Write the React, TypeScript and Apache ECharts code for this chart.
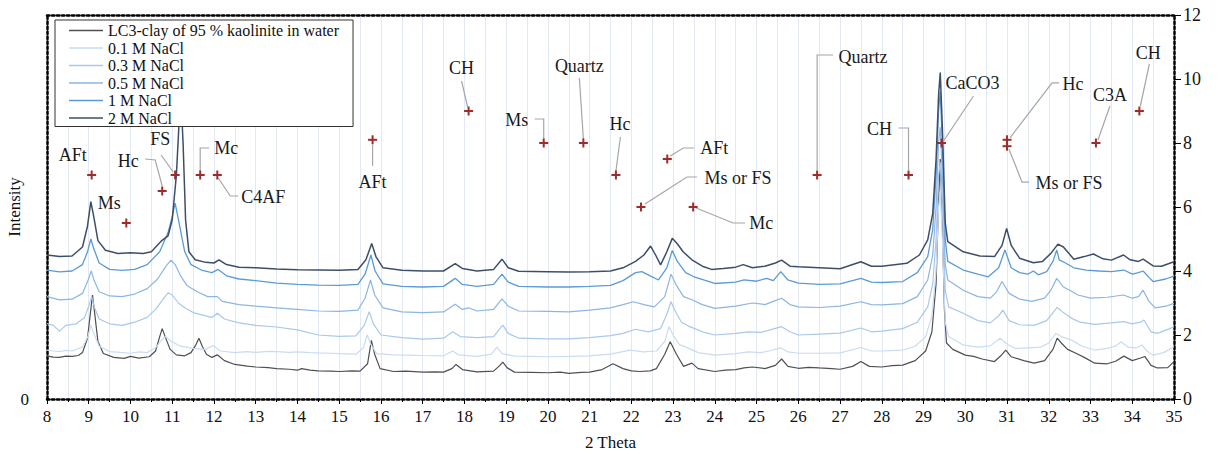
import React, { useEffect, useRef } from 'react';
import * as echarts from 'echarts';

const seriesNames = [
  'LC3-clay of 95 % kaolinite in water',
  '0.1 M NaCl',
  '0.3 M NaCl',
  '0.5 M NaCl',
  '1 M NaCl',
  '2 M NaCl',
];

const xTicks = [8, 35];
const yTicks = [0, 12];

const water = [
  [8,1.35],[8.15,1.31],[8.3,1.3],[8.45,1.34],[8.6,1.33],[8.75,1.36],[8.85,1.45],[8.97,1.9],[9.05,2.8],[9.09,3.25],[9.14,2.7],[9.22,1.8],[9.35,1.42],[9.6,1.3],[9.85,1.27],[10.0,1.33],[10.2,1.28],[10.45,1.32],[10.6,1.5],[10.7,1.95],[10.76,2.2],[10.83,1.95],[10.95,1.55],[11.1,1.38],[11.3,1.35],[11.45,1.45],[11.57,1.7],[11.64,1.9],[11.72,1.65],[11.82,1.4],[11.95,1.3],[12.08,1.38],[12.25,1.2],[12.5,1.08],[12.8,1.03],[13,1.0],[13.3,0.98],[13.5,0.95],[13.8,0.93],[14,0.9],[14.1,0.95],[14.3,0.9],[14.5,0.88],[14.8,0.87],[15,0.86],[15.3,0.88],[15.5,0.87],[15.68,1.1],[15.77,1.83],[15.85,1.4],[15.98,0.95],[16.3,0.86],[16.6,0.87],[17,0.84],[17.3,0.85],[17.5,0.84],[17.7,0.95],[17.8,1.08],[17.95,0.92],[18.3,0.85],[18.7,0.87],[18.85,1.05],[18.92,1.15],[19.02,0.98],[19.2,0.84],[19.6,0.83],[20,0.82],[20.3,0.84],[20.5,0.8],[20.8,0.83],[21,0.84],[21.3,0.92],[21.56,1.1],[21.8,0.95],[22.0,0.88],[22.2,0.86],[22.45,0.88],[22.6,0.95],[22.8,1.4],[22.93,1.79],[23.08,1.4],[23.25,1.02],[23.45,1.12],[23.6,0.95],[24,0.86],[24.25,0.9],[24.5,0.92],[24.7,0.97],[24.9,1.0],[25.2,0.95],[25.45,1.05],[25.6,1.25],[25.75,1.02],[26,0.96],[26.25,0.99],[26.5,0.97],[26.8,0.95],[27,0.93],[27.3,1.02],[27.5,1.17],[27.7,1.02],[28,1.0],[28.25,1.04],[28.5,1.06],[28.8,1.2],[29.05,1.5],[29.2,2.1],[29.3,3.6],[29.36,6.2],[29.4,7.5],[29.44,6.0],[29.5,2.8],[29.55,1.75],[29.7,1.55],[30,1.37],[30.2,1.33],[30.4,1.25],[30.7,1.17],[30.85,1.35],[30.97,1.53],[31.1,1.32],[31.4,1.2],[31.65,1.12],[31.9,1.2],[32.1,1.55],[32.2,1.9],[32.3,1.75],[32.45,1.55],[32.65,1.43],[32.85,1.3],[33.1,1.12],[33.4,1.1],[33.6,1.18],[33.8,1.34],[34.0,1.2],[34.2,1.28],[34.3,1.33],[34.45,1.05],[34.6,0.97],[34.85,0.98],[35,1.17],
];

const nacl01 = [
  [8,1.53],[8.15,1.5],[8.3,1.48],[8.45,1.52],[8.6,1.5],[8.85,1.62],[8.98,1.95],[9.05,2.3],[9.12,2.05],[9.25,1.65],[9.5,1.48],[9.75,1.46],[10,1.43],[10.2,1.47],[10.4,1.45],[10.6,1.6],[10.75,1.85],[10.85,1.95],[10.98,1.8],[11.2,1.65],[11.5,1.58],[11.8,1.55],[11.98,1.67],[12.15,1.5],[12.5,1.45],[12.8,1.48],[13,1.46],[13.3,1.49],[13.5,1.48],[13.8,1.46],[14,1.47],[14.3,1.45],[14.5,1.44],[14.8,1.43],[15,1.42],[15.4,1.4],[15.58,1.6],[15.67,2.0],[15.76,1.7],[15.9,1.42],[16.3,1.38],[16.7,1.37],[17,1.36],[17.5,1.35],[17.72,1.5],[17.85,1.38],[18.3,1.33],[18.65,1.4],[18.78,1.62],[18.9,1.42],[19.2,1.34],[19.6,1.33],[20,1.32],[20.5,1.33],[21,1.35],[21.5,1.4],[21.97,1.53],[22.3,1.47],[22.6,1.5],[22.8,1.8],[22.9,2.26],[23.0,2.0],[23.15,1.7],[23.3,1.63],[23.6,1.45],[24,1.37],[24.5,1.42],[24.8,1.47],[25.1,1.45],[25.3,1.5],[25.58,1.6],[25.75,1.47],[26,1.43],[26.5,1.43],[27,1.44],[27.5,1.61],[27.75,1.5],[28,1.5],[28.5,1.53],[28.8,1.65],[29.05,1.95],[29.2,2.6],[29.3,4.0],[29.36,6.0],[29.4,6.5],[29.45,5.0],[29.52,2.4],[29.6,1.95],[29.95,1.69],[30.3,1.62],[30.6,1.66],[30.83,1.9],[31.0,1.72],[31.2,1.58],[31.5,1.6],[31.8,1.62],[32.0,1.75],[32.17,2.05],[32.3,1.95],[32.55,1.84],[32.8,1.65],[33.1,1.53],[33.4,1.58],[33.6,1.65],[33.73,1.79],[33.9,1.62],[34.1,1.6],[34.23,1.69],[34.35,1.5],[34.5,1.37],[34.75,1.45],[35,1.63],
];

const nacl03 = [
  [8,2.36],[8.15,2.3],[8.3,2.12],[8.45,2.3],[8.7,2.35],[8.9,2.55],[9.0,2.9],[9.07,3.2],[9.14,2.85],[9.25,2.5],[9.5,2.35],[9.8,2.3],[10.1,2.4],[10.4,2.55],[10.6,2.8],[10.8,3.15],[10.9,3.32],[11.0,3.25],[11.15,3.0],[11.3,2.85],[11.5,2.7],[11.8,2.6],[11.95,2.55],[12.08,2.68],[12.25,2.5],[12.6,2.38],[13,2.3],[13.5,2.25],[14,2.16],[14.5,2.0],[15,1.96],[15.4,1.97],[15.6,2.3],[15.72,2.73],[15.82,2.35],[16,2.0],[16.5,1.92],[17,1.87],[17.5,1.9],[17.72,2.1],[17.9,1.95],[18.3,1.92],[18.7,1.95],[18.85,2.2],[18.92,2.31],[19.05,2.05],[19.3,1.9],[20,1.88],[20.5,1.88],[21,1.92],[21.5,1.98],[21.8,2.05],[22.1,2.18],[22.4,2.1],[22.7,2.2],[22.85,2.65],[22.95,3.04],[23.05,2.75],[23.2,2.4],[23.4,2.26],[23.7,2.1],[24,2.0],[24.5,2.05],[24.8,2.1],[25.1,2.08],[25.3,2.15],[25.6,2.26],[25.8,2.1],[26,2.0],[26.5,2.03],[27,2.06],[27.5,2.22],[27.75,2.1],[28,2.12],[28.5,2.2],[28.85,2.4],[29.1,2.88],[29.22,3.6],[29.3,5.0],[29.36,7.0],[29.4,7.4],[29.45,6.0],[29.52,3.4],[29.6,2.88],[29.95,2.68],[30.3,2.45],[30.6,2.38],[30.8,2.6],[30.9,2.78],[31.05,2.45],[31.3,2.32],[31.65,2.3],[31.95,2.45],[32.1,2.7],[32.2,2.86],[32.35,2.7],[32.55,2.52],[32.75,2.4],[33.1,2.33],[33.5,2.38],[33.8,2.42],[34.0,2.35],[34.2,2.4],[34.28,2.47],[34.45,2.1],[34.6,2.05],[34.9,2.2],[35,2.26],
];

const nacl05 = [
  [8,3.2],[8.3,3.1],[8.6,3.12],[8.85,3.3],[8.98,3.7],[9.06,4.0],[9.13,3.7],[9.25,3.35],[9.5,3.22],[9.8,3.2],[10.1,3.28],[10.4,3.45],[10.65,3.75],[10.85,4.15],[10.97,4.34],[11.07,4.2],[11.2,3.85],[11.35,3.55],[11.6,3.35],[11.85,3.2],[12.08,3.2],[12.2,3.05],[12.6,2.95],[13,2.9],[13.5,2.85],[14,2.8],[14.5,2.75],[15,2.74],[15.45,2.78],[15.62,3.15],[15.75,3.72],[15.85,3.25],[16.05,2.85],[16.5,2.72],[17,2.7],[17.5,2.72],[17.78,2.96],[17.95,2.8],[18.1,2.85],[18.3,2.75],[18.7,2.8],[18.9,3.13],[19.05,2.9],[19.3,2.75],[20,2.74],[20.5,2.72],[21,2.78],[21.5,2.85],[21.8,2.95],[22.05,3.04],[22.3,2.95],[22.55,2.88],[22.8,3.2],[22.95,3.9],[23.08,3.55],[23.25,3.2],[23.45,3.1],[23.7,2.95],[24,2.83],[24.5,2.9],[24.9,3.0],[25.2,2.95],[25.4,3.05],[25.6,3.15],[25.8,2.95],[26,2.88],[26.5,2.86],[27,2.9],[27.5,3.04],[27.75,2.95],[28,2.94],[28.5,2.98],[28.85,3.2],[29.1,3.72],[29.22,4.5],[29.3,6.0],[29.36,8.0],[29.4,8.5],[29.45,7.0],[29.52,4.2],[29.58,3.72],[29.95,3.4],[30.3,3.2],[30.6,3.15],[30.75,3.35],[30.88,3.67],[31.05,3.3],[31.3,3.12],[31.6,3.05],[31.9,3.15],[32.05,3.4],[32.19,3.77],[32.35,3.5],[32.5,3.4],[32.7,3.25],[33.0,3.15],[33.4,3.18],[33.79,3.25],[34.0,3.15],[34.15,3.2],[34.26,3.4],[34.4,3.05],[34.55,2.85],[34.8,2.9],[35,2.99],
];

const nacl1 = [
  [8,4.03],[8.3,3.97],[8.6,4.0],[8.85,4.2],[8.97,4.6],[9.05,5.0],[9.12,4.7],[9.25,4.25],[9.5,4.05],[9.8,4.02],[10.1,4.05],[10.4,4.2],[10.7,4.6],[10.9,5.2],[11.0,5.7],[11.07,6.12],[11.15,5.6],[11.3,4.6],[11.45,4.2],[11.7,4.03],[11.95,3.95],[12.1,4.05],[12.3,3.85],[12.6,3.75],[13,3.7],[13.5,3.62],[14,3.58],[14.5,3.56],[15,3.55],[15.45,3.58],[15.62,3.9],[15.76,4.5],[15.86,4.0],[16.05,3.6],[16.5,3.52],[17,3.5],[17.5,3.52],[17.78,3.77],[17.95,3.58],[18.3,3.52],[18.7,3.58],[18.9,3.9],[19.05,3.65],[19.3,3.52],[20,3.5],[20.5,3.5],[21,3.52],[21.5,3.55],[21.8,3.7],[22.1,3.95],[22.25,3.98],[22.45,3.85],[22.65,3.72],[22.85,4.1],[22.98,4.64],[23.1,4.3],[23.3,3.95],[23.5,3.82],[24,3.61],[24.5,3.65],[24.7,3.72],[25.0,3.68],[25.24,3.77],[25.4,3.7],[25.58,3.98],[25.75,3.72],[26,3.62],[26.5,3.58],[27,3.6],[27.5,3.77],[27.75,3.65],[28,3.64],[28.5,3.67],[28.85,3.95],[29.1,4.45],[29.22,5.3],[29.3,7.0],[29.36,9.0],[29.4,9.6],[29.45,8.0],[29.52,5.0],[29.58,4.3],[29.95,4.03],[30.3,3.9],[30.55,3.82],[30.8,4.1],[30.95,4.66],[31.1,4.1],[31.3,3.95],[31.5,3.9],[31.63,4.0],[31.75,3.88],[31.95,3.98],[32.1,4.3],[32.19,4.66],[32.25,4.35],[32.4,4.25],[32.6,4.1],[32.9,4.03],[33.2,4.0],[33.5,3.98],[33.8,4.03],[34.0,3.9],[34.15,3.95],[34.26,4.0],[34.4,3.8],[34.5,3.67],[34.8,3.75],[35,3.84],
];

const nacl2 = [
  [8,4.5],[8.3,4.45],[8.6,4.47],[8.85,4.75],[8.97,5.4],[9.05,6.17],[9.12,5.7],[9.22,4.95],[9.4,4.65],[9.7,4.55],[10.0,4.57],[10.3,4.55],[10.5,4.6],[10.75,4.95],[10.9,5.1],[11.0,5.6],[11.1,7.0],[11.17,8.8],[11.21,9.4],[11.26,8.0],[11.32,5.6],[11.4,4.6],[11.55,4.35],[11.8,4.27],[12.0,4.25],[12.12,4.35],[12.3,4.2],[12.6,4.12],[13,4.1],[13.5,4.06],[14,4.04],[14.5,4.03],[15,4.02],[15.45,4.05],[15.64,4.35],[15.78,4.86],[15.88,4.45],[16.05,4.1],[16.5,4.02],[17,4.0],[17.5,4.0],[17.78,4.23],[17.95,4.08],[18.3,4.0],[18.7,4.05],[18.9,4.37],[19.05,4.1],[19.3,3.99],[20,3.98],[20.5,3.97],[21,3.98],[21.5,4.0],[21.8,4.1],[22.1,4.3],[22.3,4.5],[22.46,4.78],[22.58,4.5],[22.7,4.19],[22.85,4.6],[22.98,5.02],[23.1,4.85],[23.24,4.6],[23.45,4.35],[23.7,4.15],[23.92,4.05],[24.2,4.08],[24.5,4.12],[24.68,4.2],[24.9,4.1],[25.2,4.15],[25.45,4.25],[25.6,4.34],[25.8,4.15],[26,4.13],[26.5,4.1],[27,4.07],[27.5,4.29],[27.75,4.15],[28,4.15],[28.6,4.24],[28.9,4.5],[29.1,4.97],[29.22,5.8],[29.3,7.5],[29.36,9.5],[29.4,10.2],[29.45,8.5],[29.52,5.5],[29.58,4.92],[29.95,4.6],[30.35,4.47],[30.7,4.45],[30.88,4.8],[30.99,5.33],[31.1,4.8],[31.3,4.4],[31.63,4.26],[31.85,4.3],[32.05,4.55],[32.22,4.84],[32.35,4.75],[32.6,4.37],[32.85,4.45],[33.07,4.53],[33.3,4.38],[33.5,4.34],[33.79,4.5],[33.95,4.35],[34.15,4.3],[34.26,4.37],[34.5,4.16],[34.7,4.15],[35,4.29],
];

const seriesData = [water, nacl01, nacl03, nacl05, nacl1, nacl2];

const annotationNames = ['AFt', 'Ms', 'Hc', 'FS', 'Mc', 'C4AF', 'AFt', 'CH', 'Ms', 'Quartz', 'Hc', 'AFt', 'Ms or FS', 'Mc', 'Quartz', 'CH', 'CaCO3', 'Hc', 'Ms or FS', 'C3A', 'CH'];
const annotationX = [9.07, 9.9, 10.76, 11.07, 11.67, 12.08, 15.8, 18.1, 19.9, 20.85, 21.63, 22.86, 22.23, 23.48, 26.45, 28.64, 29.43, 31.0, 31.0, 33.13, 34.17];
const annotationY = [7, 5.5, 6.5, 7, 7, 7, 8.1, 9, 8, 8, 7, 7.5, 6, 6, 7, 7, 8, 8.1, 7.9, 8, 9];

// label placement (pixel offsets from the marker) and leader-line bends
const annotationLayout = [
  { label: [-19, -20], leader: [] },
  { label: [-17, -20], leader: [] },
  { label: [-34, -30], leader: [[-17, -32], [-7, -31], [0, -5]] },
  { label: [-15, -36], leader: [[-14, -20], [-2, -3]] },
  { label: [26, -27], leader: [[0, -4], [0, -27], [9, -27]] },
  { label: [46, 22], leader: [[1, 3], [13, 21], [21, 21]] },
  { label: [0, 42], leader: [[0, 5], [0, 26]] },
  { label: [-7, -43], leader: [[-7, -30], [-1, -4]] },
  { label: [-27, -23], leader: [[-9, -24], [0, -24], [0, -4]] },
  { label: [-4, -77], leader: [[-4, -65], [0, -4]] },
  { label: [4, -51], leader: [[4.5, -38], [0, -4]] },
  { label: [47, -11], leader: [[3, -3], [16, -11], [27, -11]] },
  { label: [97, -29], leader: [[4, -3], [46, -30], [56, -30]] },
  { label: [68, 16], leader: [[3, 1], [40, 16], [52, 16]] },
  { label: [46, -118], leader: [[0, -5], [0, -120], [16, -120]] },
  { label: [-29, -46], leader: [[-10, -47], [0, -47], [0, -5]] },
  { label: [31, -60], leader: [[2, -2], [32, -47]] },
  { label: [66, -56], leader: [[3, -2], [45, -57], [52, -57]] },
  { label: [62, 37], leader: [[2, 3], [15, 36], [22, 36]] },
  { label: [14, -48], leader: [[2, -3], [14, -37]] },
  { label: [9, -58], leader: [[10, -47], [1, -5]] },
];

const seriesColors = ['#505050', '#c9dcf2', '#a9c8ec', '#8cb5e3', '#5b9bd5', '#3d4f68'];
const seriesWidths = [1.2, 1.2, 1.2, 1.2, 1.3, 1.5];
const FONT = 'Liberation Serif';

export default function App() {
  const ref = useRef<HTMLDivElement>(null);
  useEffect(() => {
    if (!ref.current) return;
    const chart = echarts.init(ref.current, undefined, { renderer: 'svg' });
    const dotted = { color: '#000', width: 2.5, type: 'dotted' as const };
    const lineSeries = seriesNames.map((name, i) => ({
      name,
      type: 'line',
      xAxisIndex: 0,
      yAxisIndex: 1,
      data: seriesData[i],
      showSymbol: false,
      symbol: 'none',
      lineStyle: { color: seriesColors[i], width: seriesWidths[i] },
      itemStyle: { color: seriesColors[i] },
      z: 2,
    }));
    const annotationSeries = {
      type: 'custom',
      xAxisIndex: 0,
      yAxisIndex: 1,
      silent: true,
      clip: false,
      z: 3,
      encode: { x: 0, y: 1 },
      data: annotationX.map((x, i) => [x, annotationY[i], i]),
      renderItem: (params: any, api: any) => {
        const idx = api.value(2);
        const p = api.coord([api.value(0), api.value(1)]);
        const lay = annotationLayout[idx];
        const children: any[] = [];
        if (lay.leader.length) {
          children.push({
            type: 'polyline',
            shape: { points: lay.leader.map((o: number[]) => [p[0] + o[0], p[1] + o[1]]) },
            style: { stroke: '#a6a6a6', lineWidth: 1.2, fill: null },
          });
        }
        children.push({
          type: 'line',
          shape: { x1: p[0] - 4.5, y1: p[1], x2: p[0] + 4.5, y2: p[1] },
          style: { stroke: '#a02b2b', lineWidth: 2 },
        });
        children.push({
          type: 'line',
          shape: { x1: p[0], y1: p[1] - 4.5, x2: p[0], y2: p[1] + 4.5 },
          style: { stroke: '#a02b2b', lineWidth: 2 },
        });
        children.push({
          type: 'text',
          style: {
            text: annotationNames[idx],
            x: p[0] + lay.label[0],
            y: p[1] + lay.label[1],
            align: 'center',
            verticalAlign: 'middle',
            fontFamily: FONT,
            fontSize: 18,
            fill: '#1a1a1a',
          },
        });
        return { type: 'group', children };
      },
    };
    chart.setOption({
      animation: false,
      backgroundColor: '#fff',
      textStyle: { fontFamily: FONT },
      grid: { left: 47, right: 45, top: 15, bottom: 62, containLabel: false, outerBoundsMode: 'none' },
      legend: {
        left: 55,
        top: 20,
        orient: 'vertical',
        data: seriesNames,
        icon: 'rect',
        itemWidth: 34,
        itemHeight: 1.6,
        itemGap: 0.5,
        padding: [2, 14, 0, 14],
        borderColor: '#333',
        borderWidth: 1,
        backgroundColor: '#fff',
        textStyle: { fontFamily: FONT, fontSize: 16, color: '#111', lineHeight: 17 },
        selectedMode: false,
      },
      xAxis: [
        {
          type: 'value',
          min: xTicks[0],
          max: xTicks[1],
          interval: 1,
          position: 'bottom',
          axisLine: { show: true, onZero: false, lineStyle: dotted },
          axisTick: { show: true, length: 5, lineStyle: { color: '#000', width: 1 } },
          minorTick: { show: true, splitNumber: 2, length: 3, lineStyle: { color: '#000' } },
          splitLine: { show: true, lineStyle: { color: '#e2e9f4', width: 1 } },
          minorSplitLine: { show: true, lineStyle: { color: '#e2e9f4', width: 1 } },
          axisLabel: { fontFamily: FONT, fontSize: 17, color: '#111', margin: 9 },
          name: '2 Theta',
          nameLocation: 'middle',
          nameGap: 35,
          nameMoveOverlap: false,
          nameTextStyle: { fontFamily: FONT, fontSize: 17, color: '#111' },
        },
        {
          type: 'value',
          min: xTicks[0],
          max: xTicks[1],
          position: 'top',
          axisLine: { show: true, onZero: false, lineStyle: dotted },
          axisTick: { show: false },
          axisLabel: { show: false },
          splitLine: { show: false },
        },
      ],
      yAxis: [
        {
          type: 'value',
          min: yTicks[0],
          max: yTicks[1],
          interval: 2,
          position: 'left',
          axisLine: { show: true, onZero: false, lineStyle: dotted },
          axisTick: { show: false },
          splitLine: { show: false },
          axisLabel: {
            fontFamily: FONT, fontSize: 17, color: '#111', margin: 18,
            formatter: (v: number) => (v === 0 ? '0' : ''),
          },
          name: 'Intensity',
          nameLocation: 'middle',
          nameGap: 24,
          nameRotate: 90,
          nameMoveOverlap: false,
          nameTextStyle: { fontFamily: FONT, fontSize: 17, color: '#111' },
        },
        {
          type: 'value',
          min: yTicks[0],
          max: yTicks[1],
          interval: 2,
          position: 'right',
          axisLine: { show: true, onZero: false, lineStyle: dotted },
          axisTick: { show: true, length: 7, lineStyle: { color: '#000', width: 1 } },
          splitLine: { show: false },
          axisLabel: { fontFamily: FONT, fontSize: 18, color: '#111', margin: 9 },
        },
      ],
      series: [...lineSeries, annotationSeries],
    });
    return () => chart.dispose();
  }, []);
  return (
    <div
      ref={ref}
      style={{ position: 'fixed', left: 0, top: 0, width: 1219, height: 461, background: '#fff' }}
    />
  );
}
